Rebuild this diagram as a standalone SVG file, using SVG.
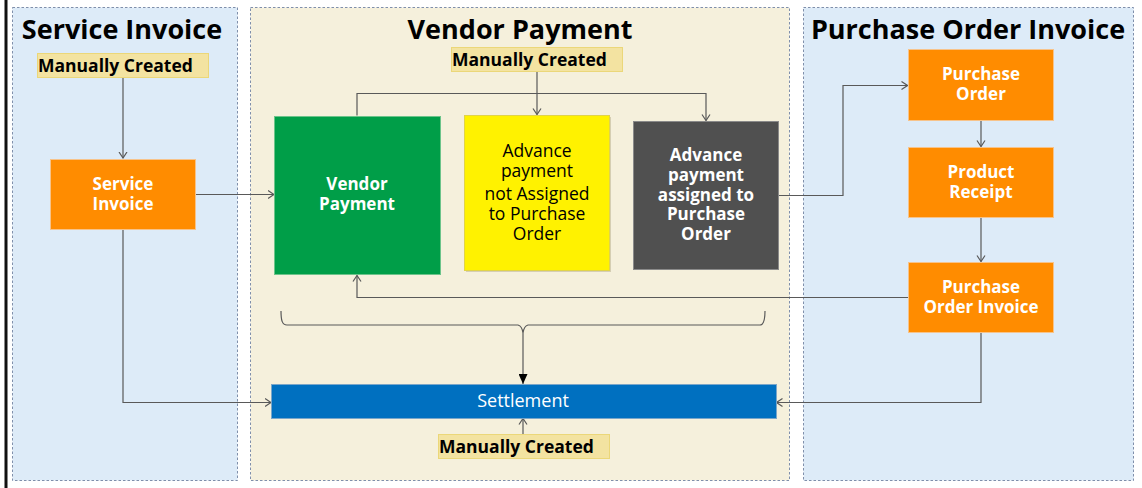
<svg xmlns="http://www.w3.org/2000/svg" width="1142" height="488" viewBox="0 0 1142 488">
<defs>
<marker id="arr" markerUnits="userSpaceOnUse" markerWidth="7" markerHeight="10" viewBox="0 0 7 10" refX="6.5" refY="5" orient="auto">
<path d="M0.5,1 L6.5,5 L0.5,9" fill="none" stroke="#595959" stroke-width="1.2"/>
</marker>
<marker id="arrf" markerUnits="userSpaceOnUse" markerWidth="10" markerHeight="9" viewBox="0 0 10 9" refX="10" refY="4.5" orient="auto">
<path d="M0,0 L10,4.5 L0,9 Z" fill="#000"/>
</marker>
</defs>
<style>
.panel-b{fill:#ddebf8;stroke:#7f8fab;stroke-width:1;stroke-dasharray:2.5,2}
.panel-c{fill:#f5f0dc;stroke:#7f8fab;stroke-width:1;stroke-dasharray:2.5,2}
.title{font-family:"Open Sans","Noto Sans",sans-serif;font-weight:bold;font-size:27px;fill:#000;text-anchor:middle}
.lbl{fill:#f3e3a1;stroke:#ebd779;stroke-width:1}
.lbltxt{font-family:"Open Sans","Noto Sans",sans-serif;font-weight:bold;font-size:17.5px;fill:#000}
.orange{fill:#ff8c00;stroke:#f7c38a;stroke-width:1}
.wb{font-family:"Open Sans","Noto Sans",sans-serif;font-weight:bold;font-size:17px;fill:#fff;text-anchor:middle}
.br{font-family:"Open Sans","Noto Sans",sans-serif;font-size:17.5px;fill:#000;text-anchor:middle}
.wr{font-family:"Open Sans","Noto Sans",sans-serif;font-size:18px;fill:#fff;text-anchor:middle}
.conn{fill:none;stroke:#595959;stroke-width:1.2}
</style>
<rect x="0" y="0" width="1142" height="488" fill="#fff"/>
<rect x="4.5" y="0" width="3" height="488" fill="#111"/>

<g id="panel-service-invoice">
<rect class="panel-b" x="12.5" y="7.5" width="225" height="473"/>
<text class="title" x="122" y="39">Service Invoice</text>
</g>
<g id="panel-vendor-payment">
<rect class="panel-c" x="250.5" y="7.5" width="539" height="473"/>
<text class="title" x="520" y="39">Vendor Payment</text>
</g>
<g id="panel-purchase-order-invoice">
<rect class="panel-b" x="803.5" y="7.5" width="330" height="473"/>
<text class="title" x="968" y="39">Purchase Order Invoice</text>
</g>

<g id="connectors">
<path class="conn" d="M123,77 V158" marker-end="url(#arr)"/>
<path class="conn" d="M196,194.5 H274" marker-end="url(#arr)"/>
<path class="conn" d="M537,71 V114.5"  marker-end="url(#arr)"/>
<path class="conn" d="M357,115.5 V93.5 H706 V120.5" marker-end="url(#arr)"/>
<path class="conn" d="M778,195.5 H843 V85.5 H907.5" marker-end="url(#arr)"/>
<path class="conn" d="M981,120 V146.5" marker-end="url(#arr)"/>
<path class="conn" d="M981,218 V261.5" marker-end="url(#arr)"/>
<path class="conn" d="M908,297.5 H357 V275.5" marker-end="url(#arr)"/>
<path class="conn" d="M281,311 C281,320 282,325 287,325 L518,325 Q522,326 523,333 Q524,326 528,325 L760,325 C764,325 765,320 765,311"/>
<path class="conn" d="M523,333 V384" stroke="#333" marker-end="url(#arrf)"/>
<path class="conn" d="M123,230 V402.5 H271" marker-end="url(#arr)"/>
<path class="conn" d="M981,333 V402.5 H776.5" marker-end="url(#arr)"/>
<path class="conn" d="M523,434 V418.5" marker-end="url(#arr)"/>
</g>

<g id="label-manual-si">
<rect class="lbl" x="37.5" y="53.5" width="171" height="24"/>
<text class="lbltxt" x="38" y="72">Manually Created</text>
</g>
<g id="label-manual-vp">
<rect class="lbl" x="451.5" y="47.5" width="171" height="24"/>
<text class="lbltxt" x="452" y="66">Manually Created</text>
</g>
<g id="label-manual-settlement">
<rect class="lbl" x="438.5" y="434.5" width="171" height="24"/>
<text class="lbltxt" x="439" y="453">Manually Created</text>
</g>

<g id="node-service-invoice">
<rect class="orange" x="50.5" y="159.5" width="145" height="70"/>
<text class="wb" x="123" y="190">Service<tspan x="123" dy="20">Invoice</tspan></text>
</g>
<g id="node-vendor-payment">
<rect x="274.5" y="116.5" width="166" height="158" fill="#009e48" stroke="#6cc48a" stroke-width="1"/>
<text class="wb" x="357" y="190">Vendor<tspan x="357" dy="20">Payment</tspan></text>
</g>
<g id="node-advance-not-assigned">
<rect x="466" y="117" width="145" height="155" fill="#b5ab8a" opacity="0.5"/>
<rect x="464.5" y="115.5" width="145" height="155" fill="#fff200" stroke="#e0d34a" stroke-width="1"/>
<text class="br" x="537" y="157">Advance<tspan x="537" dy="20">payment</tspan><tspan x="537" dy="23">not Assigned</tspan><tspan x="537" dy="20">to Purchase</tspan><tspan x="537" dy="20">Order</tspan></text>
</g>
<g id="node-advance-assigned">
<rect x="633.5" y="121.5" width="145" height="148" fill="#505050" stroke="#8a8a8a" stroke-width="1"/>
<text class="wb" x="706" y="161">Advance<tspan x="706" dy="20">payment</tspan><tspan x="706" dy="20">assigned to</tspan><tspan x="706" dy="19">Purchase</tspan><tspan x="706" dy="20">Order</tspan></text>
</g>
<g id="node-purchase-order">
<rect class="orange" x="908.5" y="49.5" width="145" height="71"/>
<text class="wb" x="981" y="80">Purchase<tspan x="981" dy="20">Order</tspan></text>
</g>
<g id="node-product-receipt">
<rect class="orange" x="908.5" y="147.5" width="145" height="70"/>
<text class="wb" x="981" y="178">Product<tspan x="981" dy="20">Receipt</tspan></text>
</g>
<g id="node-po-invoice">
<rect class="orange" x="908.5" y="262.5" width="145" height="70"/>
<text class="wb" x="981" y="293">Purchase<tspan x="981" dy="20">Order Invoice</tspan></text>
</g>
<g id="node-settlement">
<rect x="271.5" y="384.5" width="505" height="34" fill="#0070c0" stroke="#7aa6c9" stroke-width="1"/>
<text class="wr" x="523" y="407">Settlement</text>
</g>
</svg>
